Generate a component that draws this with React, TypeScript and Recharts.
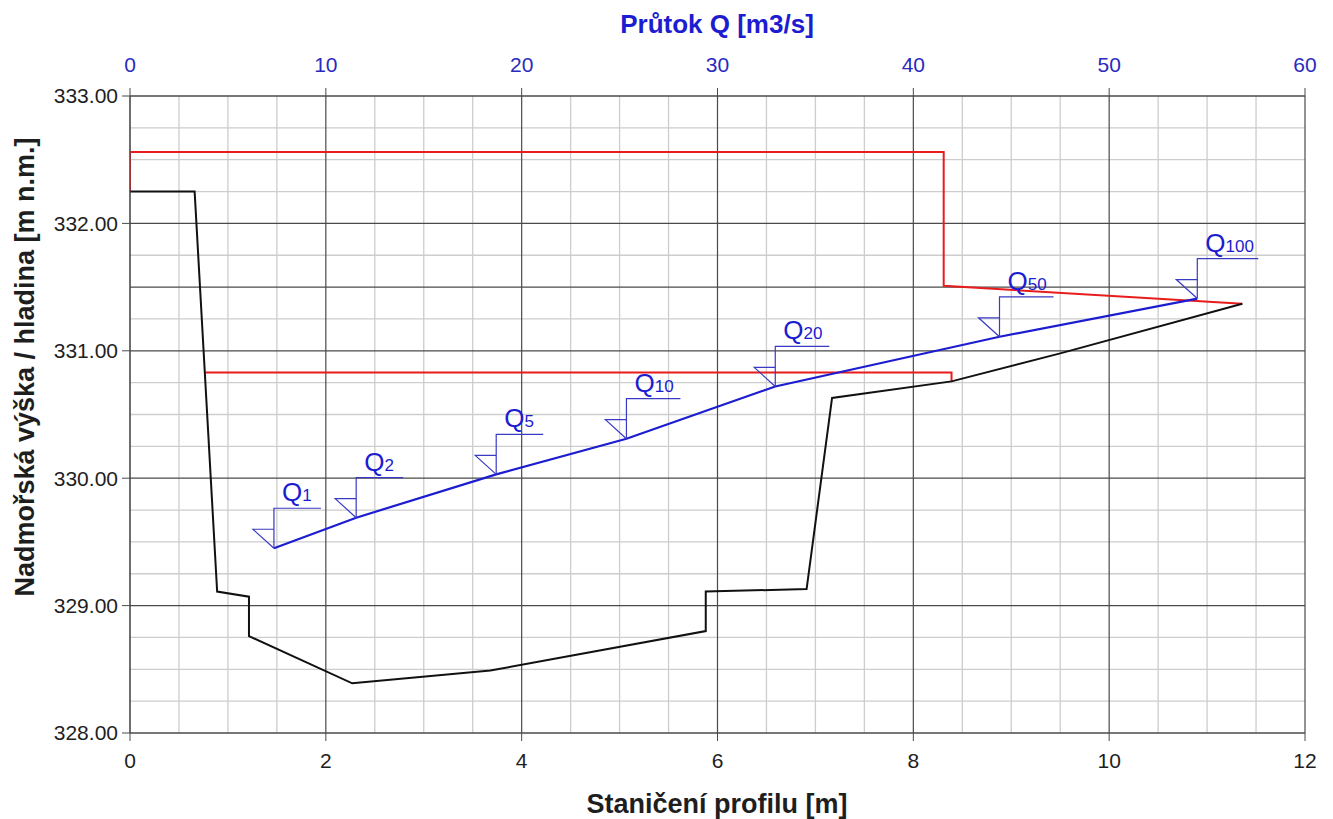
import React from "react";
import { CartesianGrid, Label, Line, LineChart, XAxis, YAxis } from "recharts";

const FONT = "'Liberation Sans', Arial, Helvetica, sans-serif";
const BLUE = "#1c1cd0";
const BLUE_THIN = "#3a3ac4";
const RED = "#e81c1c";
const DARK = "#4a4a4a";
const LIGHT = "#cdcdcd";
const TEXT = "#1e1e1e";

// terrain profile: station [m] / elevation [m n.m.]
const terrainX = [0, 0.66, 0.89, 1.215, 1.215, 2.27, 3.68, 5.88, 5.88, 6.91, 7.17, 8.39, 9.5, 11.36];
const terrainZ = [332.25, 332.25, 329.11, 329.07, 328.76, 328.39, 328.49, 328.8, 329.11, 329.13, 330.63, 330.76, 330.98, 331.37];

// red outlines
const upperX = [0, 0, 8.31, 8.31, 11.36];
const upperZ = [332.25, 332.56, 332.56, 331.51, 331.37];
const lowerX = [0.77, 8.39, 8.39];
const lowerZ = [330.83, 330.83, 330.76];

// rating curve: discharge Q [m3/s] / water level
const qNames = ["1", "2", "5", "10", "20", "50", "100"];
const qValues = [7.35, 11.55, 18.7, 25.35, 32.95, 44.4, 54.5];
const qLevels = [329.45, 329.69, 330.03, 330.31, 330.72, 331.11, 331.41];

const xTicks = [0, 2, 4, 6, 8, 10, 12];
const qTicks = [0, 10, 20, 30, 40, 50, 60];
const yTicks = [328, 329, 330, 331, 332, 333];
const xMinor = [0.5, 1, 1.5, 2.5, 3, 3.5, 4.5, 5, 5.5, 6.5, 7, 7.5, 8.5, 9, 9.5, 10.5, 11, 11.5];
const yMinor = [
  328.25, 328.5, 328.75, 329.25, 329.5, 329.75, 330.25, 330.5, 330.75,
  331.25, 331.75, 332.25, 332.5, 332.75,
];
const yMajor = [328, 329, 330, 331, 331.5, 332, 333];

const toRows = (xs: number[], zs: number[]) => xs.map((x, i) => ({ x, z: zs[i] }));
const terrain = toRows(terrainX, terrainZ);
const upper = toRows(upperX, upperZ);
const lower = toRows(lowerX, lowerZ);
const water = qValues.map((q, i) => ({ q, z: qLevels[i], name: qNames[i] }));

function WaterMark(props: any) {
  const { cx, cy, payload, index } = props;
  if (cx == null || cy == null) return <g key={`wm-${index}`} />;
  const arm = 40 + 7 * String(payload.name).length;
  return (
    <g key={`wm-${index}`}>
      <path
        d={`M${cx},${cy} V${cy - 40} H${cx + arm}`}
        stroke={BLUE_THIN}
        strokeWidth={1.2}
        fill="none"
      />
      <path
        d={`M${cx},${cy} L${cx - 21},${cy - 19} H${cx}`}
        stroke={BLUE_THIN}
        strokeWidth={1.2}
        fill="none"
      />
      <text x={cx + 8} y={cy - 47} fill={BLUE} fontFamily={FONT} fontSize={26}>
        Q<tspan fontSize={17}>{payload.name}</tspan>
      </text>
    </g>
  );
}

export default function App() {
  return (
    <div style={{ position: "absolute", left: 0, top: 0, background: "#fff" }}>
      <LineChart width={1333} height={819} margin={{ top: 0, right: 28, bottom: 0, left: 0 }}>
        <CartesianGrid
          xAxisId="m"
          stroke={LIGHT}
          strokeWidth={1.3}
          verticalValues={xMinor}
          horizontalValues={yMinor}
        />
        <CartesianGrid
          xAxisId="m"
          stroke={DARK}
          strokeWidth={1.2}
          verticalValues={xTicks}
          horizontalValues={yMajor}
        />
        <XAxis
          xAxisId="m"
          type="number"
          dataKey="x"
          domain={[0, 12]}
          ticks={xTicks}
          allowDataOverflow
          height={86}
          tickSize={8}
          tickMargin={12}
          stroke={DARK}
          tick={{ fill: TEXT, fontSize: 21, fontFamily: FONT }}
        >
          <Label
            content={() => (
              <text
                x={717}
                y={813}
                textAnchor="middle"
                fill={TEXT}
                fontFamily={FONT}
                fontWeight="bold"
                fontSize={27}
              >
                Staničení profilu [m]
              </text>
            )}
          />
        </XAxis>
        <XAxis
          xAxisId="q"
          orientation="top"
          type="number"
          dataKey="q"
          domain={[0, 60]}
          ticks={qTicks}
          allowDataOverflow
          height={96}
          tickSize={8}
          tickMargin={16}
          stroke={DARK}
          tick={{ fill: "#2a2abe", fontSize: 21, fontFamily: FONT }}
        >
          <Label
            content={() => (
              <text
                x={717}
                y={33}
                textAnchor="middle"
                fill={BLUE}
                fontFamily={FONT}
                fontWeight="bold"
                fontSize={26}
              >
                Průtok Q [m3/s]
              </text>
            )}
          />
        </XAxis>
        <YAxis
          type="number"
          domain={[328, 333]}
          ticks={yTicks}
          allowDataOverflow
          width={130}
          tickSize={8}
          tickMargin={4}
          stroke={DARK}
          tickFormatter={(v: number) => v.toFixed(2)}
          tick={{ fill: TEXT, fontSize: 21, fontFamily: FONT }}
        >
          <Label
            content={() => (
              <text
                x={34}
                y={367}
                transform="rotate(-90 34 367)"
                textAnchor="middle"
                fill={TEXT}
                fontFamily={FONT}
                fontWeight="bold"
                fontSize={27}
              >
                Nadmořská výška / hladina [m n.m.]
              </text>
            )}
          />
        </YAxis>
        <Line
          xAxisId="m"
          data={upper}
          dataKey="z"
          type="linear"
          stroke={RED}
          strokeWidth={2}
          dot={false}
          isAnimationActive={false}
        />
        <Line
          xAxisId="m"
          data={lower}
          dataKey="z"
          type="linear"
          stroke={RED}
          strokeWidth={2}
          dot={false}
          isAnimationActive={false}
        />
        <Line
          xAxisId="m"
          data={terrain}
          dataKey="z"
          type="linear"
          stroke="#111"
          strokeWidth={2}
          dot={false}
          isAnimationActive={false}
        />
        <Line
          xAxisId="q"
          data={water}
          dataKey="z"
          type="linear"
          stroke={BLUE}
          strokeWidth={2.2}
          dot={WaterMark}
          activeDot={false}
          isAnimationActive={false}
        />
      </LineChart>
    </div>
  );
}
